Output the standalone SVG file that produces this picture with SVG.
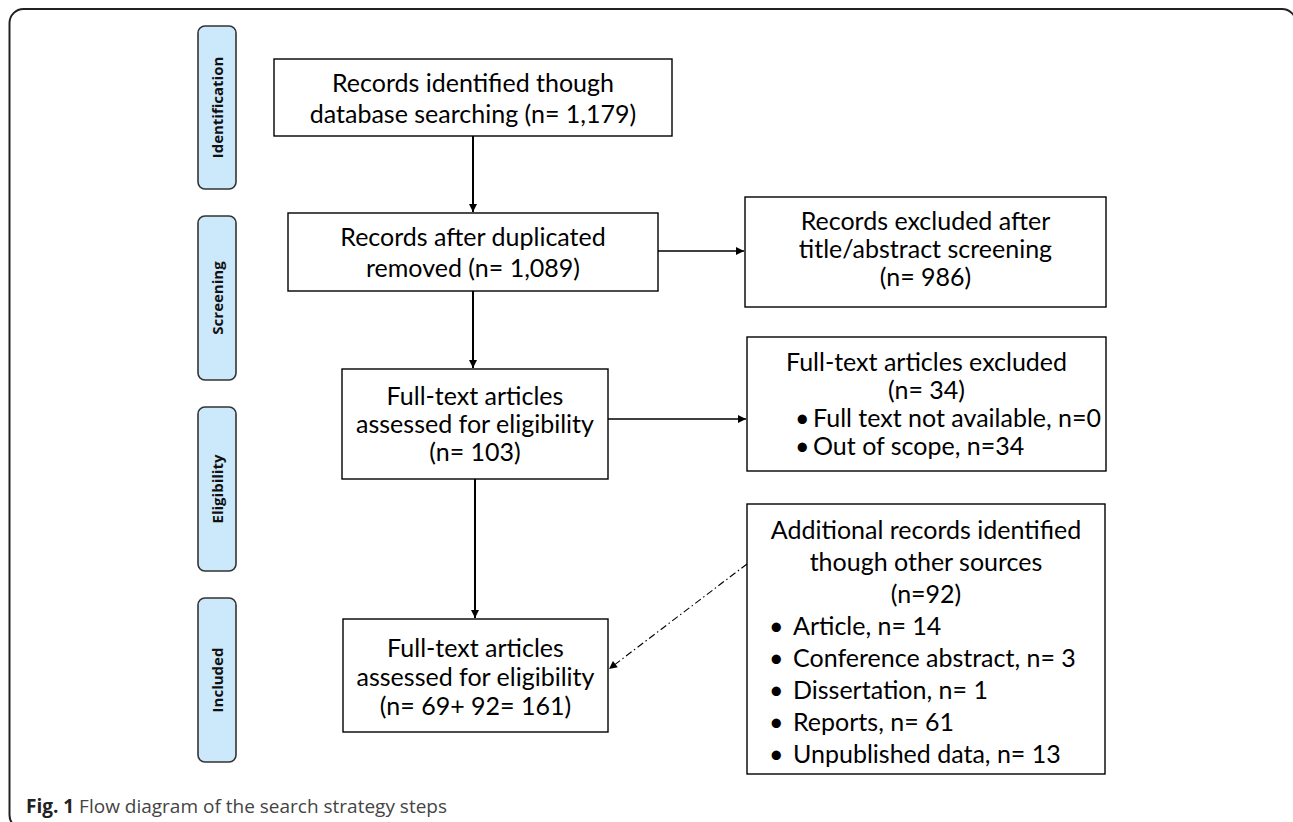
<svg xmlns="http://www.w3.org/2000/svg" width="1293" height="822" viewBox="0 0 1293 822">
<style>
.box{fill:#fff;stroke:#000;stroke-width:1.4}
.pill{fill:#cce9fb;stroke:#333;stroke-width:1.6}
.t{font-family:Lato,"Liberation Sans",sans-serif;font-size:25px;fill:#000;text-anchor:middle;dominant-baseline:central}
.b{font-family:Lato,"Liberation Sans",sans-serif;font-size:25px;fill:#000;dominant-baseline:central}
.pt{font-family:"Open Sans","Liberation Sans",sans-serif;font-size:15px;font-weight:bold;fill:#111;text-anchor:middle;dominant-baseline:central}
.v{stroke:#000;stroke-width:2;fill:none}
.h{stroke:#000;stroke-width:1.3;fill:none}
.dd{stroke:#000;stroke-width:1.1;fill:none;stroke-dasharray:7 3 1.5 3}
.cap{font-family:"Open Sans","Liberation Sans",sans-serif;font-size:19px;fill:#444}
</style>
<defs>
<marker id="ah" viewBox="0 0 10 10" refX="10" refY="5" markerWidth="10" markerHeight="8" markerUnits="userSpaceOnUse" orient="auto">
<path d="M0,0 L10,5 L0,10 z" fill="#000"/>
</marker>
</defs>
<rect x="9.5" y="9" width="1286.5" height="820" rx="14" fill="none" stroke="#222" stroke-width="2"/>
<g id="phase-identification"><rect class="pill" x="198" y="26" width="38" height="163" rx="7"/><text class="pt" transform="translate(217,107.5) rotate(-90)">Identification</text></g>
<g id="phase-screening"><rect class="pill" x="198" y="216" width="38" height="164" rx="7"/><text class="pt" transform="translate(217,298) rotate(-90)">Screening</text></g>
<g id="phase-eligibility"><rect class="pill" x="198" y="407" width="38" height="164" rx="7"/><text class="pt" transform="translate(217,489) rotate(-90)">Eligibility</text></g>
<g id="phase-included"><rect class="pill" x="198" y="598" width="38" height="164" rx="7"/><text class="pt" transform="translate(217,680) rotate(-90)">Included</text></g>
<g id="connectors">
<line class="v" x1="473" y1="136" x2="473" y2="212" marker-end="url(#ah)"/>
<line class="h" x1="658" y1="251" x2="744" y2="251" marker-end="url(#ah)"/>
<line class="v" x1="473" y1="291" x2="473" y2="368" marker-end="url(#ah)"/>
<line class="h" x1="608" y1="419" x2="746" y2="419" marker-end="url(#ah)"/>
<line class="v" x1="475" y1="479" x2="475" y2="618" marker-end="url(#ah)"/>
<line class="dd" x1="747" y1="564" x2="609" y2="669" marker-end="url(#ah)"/>
</g>
<g id="n1"><rect class="box" x="274" y="59" width="398" height="77"/><text class="t" x="473" y="82">Records identified though</text><text class="t" x="473" y="113">database searching (n= 1,179)</text></g>
<g id="n2"><rect class="box" x="288" y="213" width="370" height="78"/><text class="t" x="473" y="236">Records after duplicated</text><text class="t" x="473" y="267">removed (n= 1,089)</text></g>
<g id="n3"><rect class="box" x="745" y="197" width="361" height="110"/><text class="t" x="925.5" y="220">Records excluded after</text><text class="t" x="925.5" y="248">title/abstract screening</text><text class="t" x="925.5" y="276">(n= 986)</text></g>
<g id="n4"><rect class="box" x="342" y="369" width="266" height="110"/><text class="t" x="475" y="395">Full-text articles</text><text class="t" x="475" y="423">assessed for eligibility</text><text class="t" x="475" y="451">(n= 103)</text></g>
<g id="n5"><rect class="box" x="747" y="337" width="359" height="134"/><text class="t" x="926.5" y="361">Full-text articles excluded</text><text class="t" x="926.5" y="389">(n= 34)</text><text class="b" x="795" y="417">•</text><text class="b" x="813" y="417">Full text not available, n=0</text><text class="b" x="795" y="445">•</text><text class="b" x="813" y="445">Out of scope, n=34</text></g>
<g id="n6"><rect class="box" x="343" y="619" width="265" height="113"/><text class="t" x="475.5" y="647">Full-text articles</text><text class="t" x="475.5" y="676">assessed for eligibility</text><text class="t" x="475.5" y="705">(n= 69+ 92= 161)</text></g>
<g id="n7"><rect class="box" x="747" y="504" width="358" height="270"/><text class="t" x="926" y="529">Additional records identified</text><text class="t" x="926" y="561">though other sources</text><text class="t" x="926" y="593">(n=92)</text>
<text class="b" x="769" y="625">•</text><text class="b" x="793" y="625">Article, n= 14</text>
<text class="b" x="769" y="657">•</text><text class="b" x="793" y="657">Conference abstract, n= 3</text>
<text class="b" x="769" y="689">•</text><text class="b" x="793" y="689">Dissertation, n= 1</text>
<text class="b" x="769" y="721">•</text><text class="b" x="793" y="721">Reports, n= 61</text>
<text class="b" x="769" y="753">•</text><text class="b" x="793" y="753">Unpublished data, n= 13</text></g>
<text class="cap" x="26" y="813"><tspan font-weight="bold" fill="#222">Fig. 1</tspan> Flow diagram of the search strategy steps</text>
</svg>
